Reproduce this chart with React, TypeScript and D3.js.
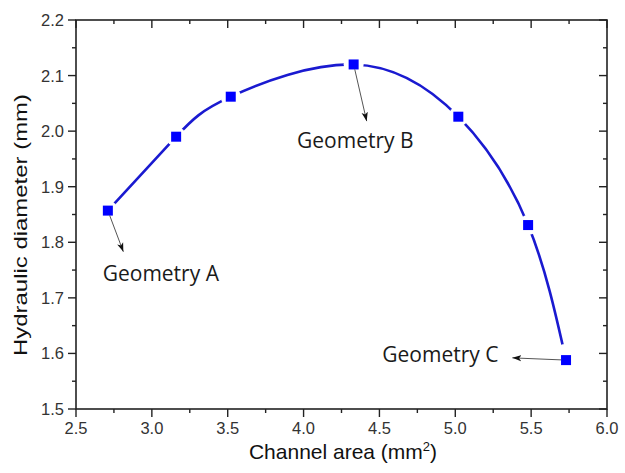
import React from "react";
import * as d3 from "d3";

// channel area (mm^2) vs hydraulic diameter (mm)
const areas = [2.71, 3.16, 3.52, 4.33, 5.02, 5.48, 5.73];
const diameters = [1.857, 1.99, 2.062, 2.12, 2.026, 1.831, 1.588];

const xTicks = [2.5, 3.0, 3.5, 4.0, 4.5, 5.0, 5.5, 6.0];
const yTicks = [1.5, 1.6, 1.7, 1.8, 1.9, 2.0, 2.1, 2.2];

// annotations: which point, where the arrow ends, where the text sits
const noteLabels = ["Geometry A", "Geometry B", "Geometry C"];
const notePoint = [0, 3, 6];
const noteArrowTo = [[2.812, 1.783], [4.416, 2.018], [5.376, 1.592]];
const noteTextAt = [[2.676, 1.7306], [3.957, 1.970], [5.285, 1.585]];
const noteAnchor = ["start", "start", "end"];

const W = 625;
const H = 473;
const m = { left: 76, right: 18, top: 20, bottom: 64 };

export default function App() {
  const x = d3.scaleLinear().domain([2.5, 6.0]).range([m.left, W - m.right]);
  const y = d3.scaleLinear().domain([1.5, 2.2]).range([H - m.bottom, m.top]);

  const pts = areas.map((a, i) => [a, diameters[i]] as [number, number]);
  const line = d3
    .line<[number, number]>()
    .x((d) => x(d[0]))
    .y((d) => y(d[1]))
    .curve(d3.curveNatural);

  const minorX = d3.range(2.5, 6.01, 0.25);
  const minorY = d3.range(1.5, 2.201, 0.05);
  const x0 = x(2.5), x1 = x(6.0), y0 = y(1.5), y1 = y(2.2);
  const tickFont = "Liberation Sans, Arial, sans-serif";

  return (
    <svg width={W} height={H} style={{ position: "absolute", left: 0, top: 0, background: "#fff" }}>
      <defs>
        <marker id="ah" viewBox="0 0 10 10" refX="10" refY="5" markerWidth="9" markerHeight="9" orient="auto" markerUnits="userSpaceOnUse">
          <path d="M0,1.5 L10,5 L0,8.5 L2.5,5 Z" fill="#111" />
        </marker>
      </defs>

      {/* curve */}
      <path d={line(pts) || ""} fill="none" stroke="#1a1ad0" strokeWidth={2.6} />
      {/* gaps around symbols */}
      {pts.map((p, i) => (
        <circle key={"g" + i} cx={x(p[0])} cy={y(p[1])} r={i === 6 ? 16 : 10} fill="#fff" />
      ))}
      {pts.map((p, i) => (
        <rect key={"s" + i} x={x(p[0]) - 5} y={y(p[1]) - 5} width={10} height={10} fill="#0000ff" />
      ))}

      {/* annotations */}
      {noteLabels.map((t, i) => {
        const p = pts[notePoint[i]];
        const px = x(p[0]), py = y(p[1]);
        const tx = x(noteArrowTo[i][0]), ty = y(noteArrowTo[i][1]);
        const len = Math.hypot(tx - px, ty - py);
        const sx = px + ((tx - px) / len) * 5;
        const sy = py + ((ty - py) / len) * 5;
        return (
          <g key={"n" + i}>
            <line x1={sx} y1={sy} x2={tx} y2={ty} stroke="#555" strokeWidth={1} markerEnd="url(#ah)" />
            <text x={x(noteTextAt[i][0])} y={y(noteTextAt[i][1])} textAnchor={noteAnchor[i]}
              fontFamily="Open Sans, Noto Sans, sans-serif" fontSize={21} fill="#1a1a1a">{t}</text>
          </g>
        );
      })}

      {/* frame */}
      <rect x={x0} y={y1} width={x1 - x0} height={y0 - y1} fill="none" stroke="#222" strokeWidth={1.6} />

      {/* x ticks: bottom outward, top inward */}
      {minorX.map((v, i) => {
        const major = i % 2 === 0;
        const len = major ? 8 : 4;
        return (
          <g key={"xt" + i} stroke="#222" strokeWidth={1.4}>
            <line x1={x(v)} x2={x(v)} y1={y0} y2={y0 + len} />
            <line x1={x(v)} x2={x(v)} y1={y1} y2={y1 + len} />
          </g>
        );
      })}
      {/* y ticks: left outward, right inward */}
      {minorY.map((v, i) => {
        const major = i % 2 === 0;
        const len = major ? 8 : 4;
        return (
          <g key={"yt" + i} stroke="#222" strokeWidth={1.4}>
            <line x1={x0 - len} x2={x0} y1={y(v)} y2={y(v)} />
            <line x1={x1 - len} x2={x1} y1={y(v)} y2={y(v)} />
          </g>
        );
      })}

      {xTicks.map((v) => (
        <text key={"xl" + v} x={x(v)} y={y0 + 25} textAnchor="middle" fontFamily={tickFont} fontSize={16.5} fill="#333">
          {d3.format(".1f")(v)}
        </text>
      ))}
      {yTicks.map((v) => (
        <text key={"yl" + v} x={x0 - 12} y={y(v) + 6} textAnchor="end" fontFamily={tickFont} fontSize={16.5} fill="#333">
          {d3.format(".1f")(v)}
        </text>
      ))}

      <text x={343} y={459} textAnchor="middle" fontFamily={tickFont} fontSize={21} fill="#111">
        Channel area (mm<tspan dy={-8} fontSize={13}>2</tspan><tspan dy={8}>)</tspan>
      </text>
      <text transform={`translate(27,225) rotate(-90)`} textAnchor="middle" fontFamily={tickFont} fontSize={19}
        textLength={262} lengthAdjust="spacingAndGlyphs" fill="#111">
        Hydraulic diameter (mm)
      </text>
    </svg>
  );
}
